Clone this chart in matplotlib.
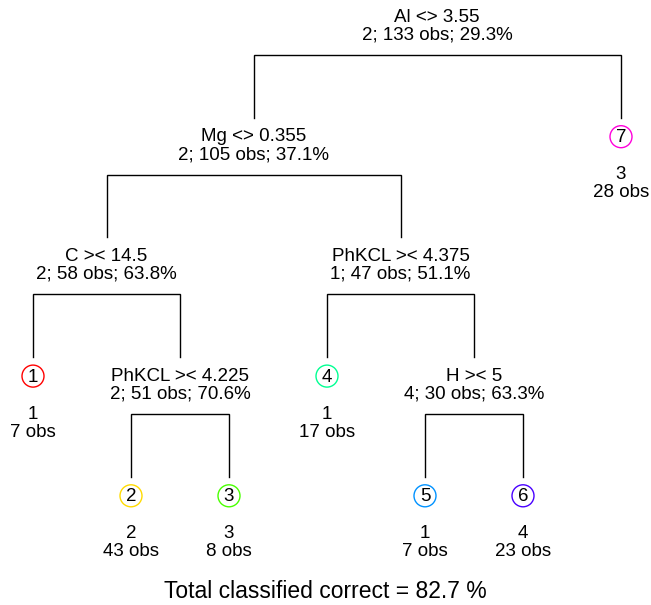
import matplotlib
matplotlib.use("Agg")
import matplotlib.pyplot as plt
from matplotlib.patches import Circle

# ---- data (rpart-style node numbering) ----
node_ids = [1, 2, 3, 4, 5, 8, 9, 10, 11, 18, 19, 22, 23]
split_labels = ["Al <> 3.55", "Mg <> 0.355", None, "C >< 14.5", "PhKCL >< 4.375",
                None, "PhKCL >< 4.225", None, "H >< 5", None, None, None, None]
node_class = [2, 2, 3, 2, 1, 1, 2, 1, 4, 2, 3, 1, 4]
node_n = [133, 105, 28, 58, 47, 7, 51, 17, 30, 43, 8, 7, 23]
node_err = [29.3, 37.1, None, 63.8, 51.1, None, 70.6, None, 63.3, None, None, None, None]
leaf_colors = ["#FF0000", "#FFDB00", "#49FF00", "#00FF92", "#0092FF", "#4900FF", "#FF00DB"]
total_correct = 82.7

# ---- layout ----
W, H = 651, 605
fig = plt.figure(figsize=(W / 100, H / 100), dpi=100)
ax = fig.add_axes([0, 0, 1, 1])
ax.set_xlim(0, W)
ax.set_ylim(H, 0)
ax.axis("off")
plt.rcParams["font.family"] = ["Liberation Sans", "DejaVu Sans"]
FS = 13.5

info = {nid: i for i, nid in enumerate(node_ids)}
children = {nid: (2 * nid, 2 * nid + 1) for nid in node_ids if 2 * nid in info}

x0, dx = 33, 98
y0, dy = 17, 119.7
pos = {}
leaf_order = []


def place(nid, depth):
    if nid in children:
        l, r = children[nid]
        xl = place(l, depth + 1)
        xr = place(r, depth + 1)
        x = (xl + xr) / 2
    else:
        x = x0 + dx * len(leaf_order)
        leaf_order.append(nid)
    pos[nid] = (x, y0 + dy * depth)
    return x


place(1, 0)

for nid in node_ids:
    i = info[nid]
    x, y = pos[nid]
    if nid in children:
        ax.text(x, y, split_labels[i], ha="center", va="center", fontsize=FS)
        ax.text(x, y + 18, f"{node_class[i]}; {node_n[i]} obs; {node_err[i]}%",
                ha="center", va="center", fontsize=FS)
        l, r = children[nid]
        xl, yl = pos[l]
        xr, yr = pos[r]
        yh = y + 38
        ax.plot([xl, xl, xr, xr], [yl - 19, yh, yh, yr - 19], color="black", lw=1.0,
                solid_joinstyle="miter")
    else:
        k = leaf_order.index(nid)
        ax.add_patch(Circle((x, y), 11, fill=False, edgecolor=leaf_colors[k], lw=1.0))
        ax.text(x, y + 1, str(k + 1), ha="center", va="center", fontsize=FS)
        ax.text(x, y + 38, str(node_class[i]), ha="center", va="center", fontsize=FS)
        ax.text(x, y + 56, f"{node_n[i]} obs", ha="center", va="center", fontsize=FS)

ax.text(W / 2, 591, f"Total classified correct = {total_correct} %", ha="center",
        va="center", fontsize=16.5)

fig.savefig("out.png", dpi=100)
